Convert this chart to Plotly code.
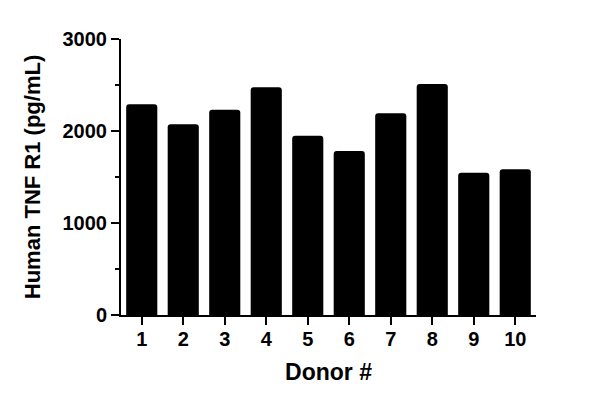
import plotly.graph_objects as go

# Human TNF R1 per donor
donors = ["1", "2", "3", "4", "5", "6", "7", "8", "9", "10"]
tnf_r1 = [2290, 2073, 2232, 2475, 1949, 1783, 2192, 2511, 1547, 1583]

y_ticks = [0, 1000, 2000, 3000]

FONT = "Liberation Sans, Arial, sans-serif"

fig = go.Figure()
fig.add_trace(go.Bar(
    x=donors, y=tnf_r1,
    marker=dict(color="black", line=dict(width=0), cornerradius=3),
    width=0.75,
    showlegend=False,
))

fig.update_xaxes(
    type="category",
    range=[-0.5, 9.5],
    showline=True, linecolor="black", linewidth=2,
    ticks="outside", ticklen=8, tickwidth=2, tickcolor="black",
    tickfont=dict(family=FONT, size=20, color="black", weight="bold"),
    ticklabelstandoff=-3,
    title=dict(text="Donor #", standoff=15,
               font=dict(family=FONT, size=23, color="black", weight="bold")),
    showgrid=False, zeroline=False,
)
fig.update_yaxes(
    range=[0, 3000],
    tickvals=y_ticks,
    showline=True, linecolor="black", linewidth=2,
    ticks="outside", ticklen=8, tickwidth=2, tickcolor="black",
    minor=dict(dtick=500, ticks="outside", ticklen=4, tickwidth=2, tickcolor="black"),
    tickfont=dict(family=FONT, size=20, color="black", weight="bold"),
    title=dict(text="Human TNF R1 (pg/mL)", standoff=16,
               font=dict(family=FONT, size=22, color="black", weight="bold")),
    showgrid=False, zeroline=False,
)

# the page adds an 8px body margin, so margins are shifted to compensate
fig.update_layout(
    width=600, height=407,
    margin=dict(l=113, r=72, t=31, b=100, autoexpand=False),
    paper_bgcolor="white", plot_bgcolor="white",
    bargap=0.25,
)

fig.write_html("out.html")
